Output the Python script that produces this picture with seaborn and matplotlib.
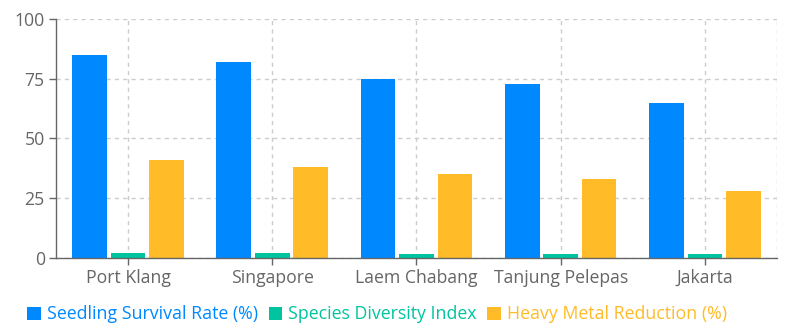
import matplotlib
matplotlib.use("Agg")
import matplotlib.pyplot as plt
import seaborn as sns
import pandas as pd
from matplotlib.patches import Patch

categories = ["Port Klang", "Singapore", "Laem Chabang", "Tanjung Pelepas", "Jakarta"]
series_names = ["Seedling Survival Rate (%)", "Species Diversity Index", "Heavy Metal Reduction (%)"]
seedling = [85, 82, 75, 73, 65]
diversity = [2.1, 1.9, 1.8, 1.7, 1.5]
heavy_metal = [41, 38, 35, 33, 28]
colors = ["#0088FF", "#00C49F", "#FFBB28"]

rows = []
for name, vals in zip(series_names, [seedling, diversity, heavy_metal]):
    for c, v in zip(categories, vals):
        rows.append({"Port": c, "Series": name, "Value": v})
df = pd.DataFrame(rows)

sns.set_theme(style="white")
plt.rcParams["font.family"] = ["Open Sans", "DejaVu Sans"]

fig = plt.figure(figsize=(7.99, 3.35), dpi=100)
ax = fig.add_axes([0.070, 0.2299, 0.9025, 0.7134])

sns.barplot(data=df, x="Port", y="Value", hue="Series", hue_order=series_names,
            order=categories, palette=colors, width=0.8, gap=0.1, ax=ax,
            legend=False, saturation=1, edgecolor="none")

ax.set_ylim(0, 100)
ax.set_xlim(-0.5, 4.5)
ax.set_yticks([0, 25, 50, 75, 100])
ax.set_xlabel("")
ax.set_ylabel("")
ax.grid(True, axis="both", color="#cccccc", linestyle=(0, (3, 3)), linewidth=1)
ax.set_axisbelow(True)
ax.axvline(4.5, color="#cccccc", linestyle=(0, (3, 3)), linewidth=1, zorder=0)

for s in ["top", "right"]:
    ax.spines[s].set_visible(False)
for s in ["left", "bottom"]:
    ax.spines[s].set_color("#666666")
    ax.spines[s].set_linewidth(1)

ax.tick_params(axis="both", colors="#666666", labelsize=12.7, length=5, width=1,
               direction="out", left=True, bottom=True, pad=3)
for lbl in ax.get_xticklabels() + ax.get_yticklabels():
    lbl.set_color("#666666")

handles = [Patch(facecolor=c, edgecolor="none") for c in colors]
leg = fig.legend(handles, series_names, loc="center", bbox_to_anchor=(0.472, 0.062),
                 ncol=3, frameon=False, fontsize=12.8, handlelength=0.75, handleheight=0.75,
                 handletextpad=0.35, columnspacing=0.6)
for t, c in zip(leg.get_texts(), colors):
    t.set_color(c)

fig.savefig("out.png", dpi=100)
